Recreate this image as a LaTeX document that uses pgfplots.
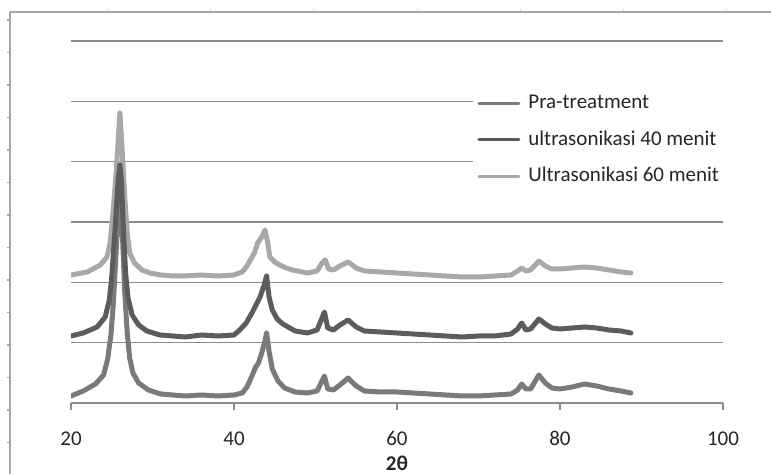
\documentclass[border=0pt]{standalone}
\usepackage{pgfplots}
\pgfplotsset{compat=1.18}
\usepackage{fontspec}
\setmainfont{Carlito}
\definecolor{cPra}{HTML}{7A7A7A}
\definecolor{cU40}{HTML}{5C5C5C}
\definecolor{cU60}{HTML}{A8A8A8}
\definecolor{cGrid}{HTML}{8C8C8C}
\definecolor{cFrame}{HTML}{A6A6A6}
\definecolor{cText}{HTML}{262626}

% heights are in screen units above the x axis (1 unit = 0.5pt)
\pgfplotstableread{
x h
20.0 7
21.5 12
23.0 19
24.0 28
24.5 44
24.9 68
25.2 100
25.6 160
26.0 215
26.3 170
26.6 110
26.9 70
27.2 45
27.6 30
28.3 20
29.5 13
31.0 9
32.5 8
34.0 7
36.0 8
38.0 7
40.0 8
41.0 10
41.6 16
42.2 27
42.6 35
43.0 40
43.4 50
43.8 62
44.0 70
44.3 52
44.7 34
45.4 22
46.2 15
47.5 11
49.0 10
50.2 12
50.8 22
51.1 27
51.5 14
52.2 13
53.0 18
54.0 25
55.0 17
56.0 12
58.0 11
60.0 11
62.0 10
64.0 9
66.0 8
68.0 7
70.0 7
72.0 8
74.0 9
74.8 13
75.3 19
75.8 14
76.4 14
77.4 28
78.2 20
79.0 15
80.0 14
81.5 16
83.0 19
84.5 17
86.0 14
87.5 12
88.7 10
}\pra

\pgfplotstableread{
x h
20.0 67
21.5 70
23.2 76
24.2 86
24.7 103
25.0 126
25.25 155
25.5 185
25.8 225
26.0 238
26.2 220
26.45 170
26.7 130
27.0 105
27.5 88
28.3 78
29.3 72
30.9 68
32.5 67
34.0 66
36.0 68
38.0 67
40.0 68
40.7 73
41.5 80
42.2 90
42.7 98
43.2 106
43.7 118
44.0 127
44.3 106
44.7 93
45.3 84
46.0 79
47.5 72
49.0 70
50.2 73
50.8 85
51.1 91
51.5 75
52.2 73
53.0 78
54.0 83
55.0 76
56.0 72
58.0 71
60.0 70
62.0 69
64.0 68
66.0 67
68.0 66
70.0 67
72.0 67
74.0 69
74.8 74
75.3 80
75.8 73
76.4 74
77.4 84
78.2 79
79.0 75
80.0 74
81.5 75
83.0 76
84.5 75
86.0 73
87.5 72
88.7 70
}\usforty

\pgfplotstableread{
x h
20.0 128
22.0 131
23.6 138
24.4 146
24.8 160
25.1 185
25.4 215
25.7 250
26.0 290
26.3 250
26.6 205
26.9 170
27.2 150
27.8 140
28.7 133
29.7 130
31.0 128
32.5 127
34.0 127
36.0 128
38.0 127
40.0 128
41.0 131
41.6 137
42.0 143
42.5 150
42.9 160
43.4 166
43.8 173
44.1 162
44.4 146
45.0 141
45.6 138
46.4 135
47.2 133
49.0 130
50.2 132
50.8 140
51.2 143
51.6 134
52.2 133
53.0 137
54.0 141
55.0 135
56.0 132
58.0 131
60.0 130
62.0 129
64.0 128
66.0 127
68.0 126
70.0 126
72.0 127
74.0 128
74.8 132
75.3 135
75.8 132
76.4 133
77.4 142
78.2 137
79.0 134
80.0 134
81.5 135
83.0 136
84.5 135
86.0 133
87.5 131
88.7 130
}\ussixty

\begin{document}
\fontsize{10.5}{12.6}\selectfont
\begin{tikzpicture}
% outer frame (cropped secondary axes)
\begin{axis}[at={(-30.5pt,195.5pt)}, anchor=north west, scale only axis,
  width=400pt, height=240pt, xmin=10, xmax=810, ymin=-492, ymax=-12,
  axis x line*=top, axis y line*=left,
  axis line style={cFrame, line width=0.8pt},
  xtick={107,210,313,417,520,623,726},
  ytick={-20,-52.5,-85,-117.5,-150,-182.5,-215,-247.5,-280,-312.5,-345,-377.5,-410,-442.5,-475},
  xticklabels={}, yticklabels={}, tick align=outside, major tick length=1.5pt,
  xtick style={gray!30, line width=0.5pt},
  ytick style={cFrame, line width=0.6pt}]
\end{axis}

\begin{axis}[scale only axis, width=326pt, height=181pt,
  xmin=20, xmax=100, ymin=0, ymax=362,
  axis x line*=bottom, axis y line*=left,
  y axis line style={draw=none}, ytick style={draw=none}, yticklabels={},
  ytick={60.33,120.67,181,241.33,301.67,362},
  ymajorgrids, grid style={cGrid, line width=0.55pt},
  xtick={20,40,60,80,100},
  x axis line style={cGrid, line width=0.7pt},
  xtick style={cGrid, line width=0.7pt},
  tick align=outside, major tick length=3.5pt,
  /pgf/number format/assume math mode=true,
  xticklabel style={font=\fontsize{10.5}{12.6}\selectfont, text=cText, yshift=-7pt},
  xlabel={\textbf{2θ}},
  xlabel style={at={(axis description cs:0.5,0)}, anchor=center, yshift=-30pt,
    inner sep=0pt, font=\fontsize{10.5}{12.6}\selectfont, text=cText},
  legend style={at={(0.6166,0.872)}, anchor=north west, fill=white, draw=none,
    font=\fontsize{10.5}{12.6}\selectfont, text=cText, row sep=6.75pt,
    inner sep=2pt, nodes={inner sep=0.5pt, text height=8pt, text depth=2.5pt},
    /tikz/every odd column/.append style={column sep=3.5pt}},
  legend cell align=left,
  legend image code/.code={\draw[#1, line width=1.5pt] (0pt,0pt) -- (20pt,0pt);},
  every axis plot/.append style={line width=2.5pt, line join=round, line cap=round}]
\addlegendimage{cPra}
\addlegendentry{Pra-treatment}
\addlegendimage{cU40}
\addlegendentry{ultrasonikasi 40 menit}
\addlegendimage{cU60}
\addlegendentry{Ultrasonikasi 60 menit}
\addplot[cU60, forget plot] table[x=x, y=h] {\ussixty};
\addplot[cPra, forget plot] table[x=x, y=h] {\pra};
\addplot[cU40, forget plot] table[x=x, y=h] {\usforty};
\end{axis}
\pgfresetboundingbox
\useasboundingbox (-35.5pt,-35.5pt) rectangle (350pt,201.5pt);
\end{tikzpicture}
\end{document}
